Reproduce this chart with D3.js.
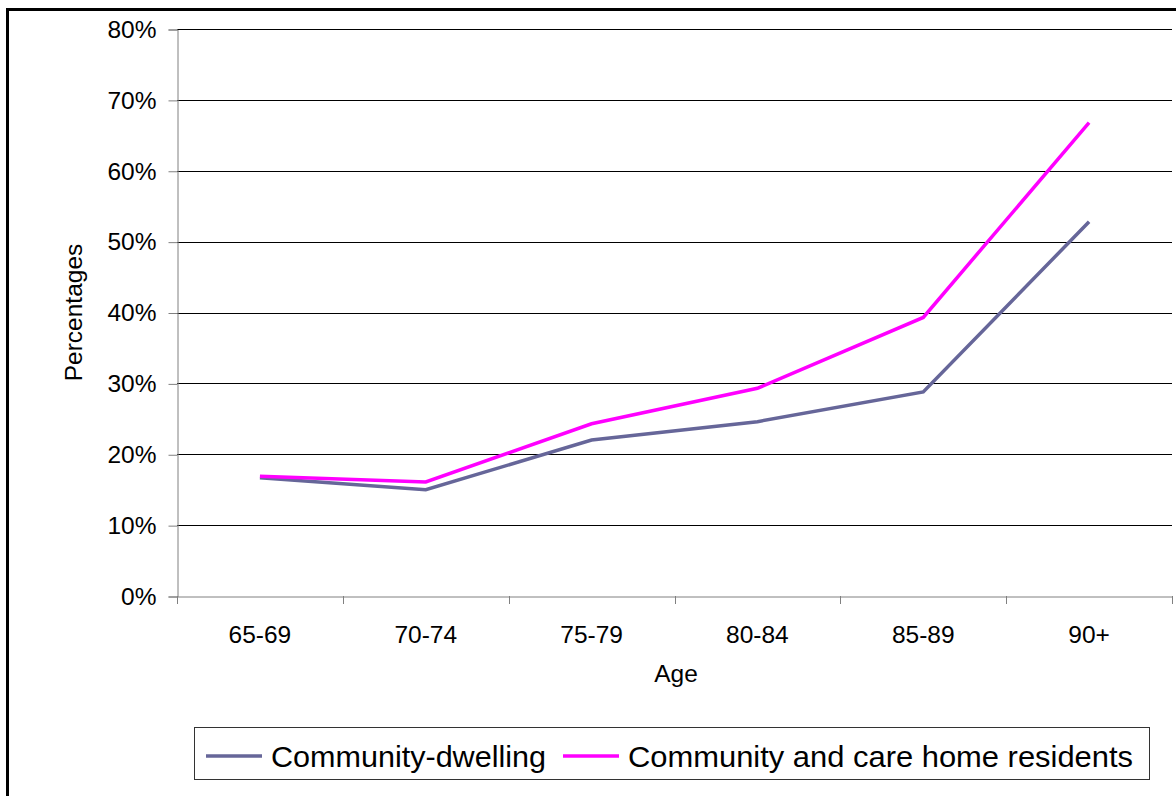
<!DOCTYPE html>
<html><head><meta charset="utf-8">
<script src="https://cdn.jsdelivr.net/npm/d3@7"></script>
<style>body{margin:0;background:#fff}svg{display:block}text{font-family:"Liberation Sans",Arial,sans-serif;fill:#000}</style>
</head><body>
<svg id="c" width="1176" height="796"></svg>
<script>
const categories = ["65-69","70-74","75-79","80-84","85-89","90+"];
const communityDwelling = [16.7, 15.0, 22.0, 24.6, 28.8, 52.8];
const communityCareHome = [16.9, 16.1, 24.3, 29.3, 39.3, 66.8];
const yTicks = [0,10,20,30,40,50,60,70,80];
const seriesNames = ["Community-dwelling","Community and care home residents"];
const seriesColors = ["#666699","#FF00FF"];

const svg = d3.select("#c");
const L=177, R=1172, T=29, B=596;
svg.append("rect").attr("x",7.5).attr("y",9.5).attr("width",1300).attr("height",1000)
  .attr("fill","none").attr("stroke","#000").attr("stroke-width",3);

const x = d3.scaleBand().domain(categories).range([L,R]).padding(0);
const y = d3.scaleLinear().domain([0,80]).range([B,T]);

// gridlines
svg.append("g").selectAll("line").data(yTicks.filter(d=>d>0)).join("line")
  .attr("x1",L).attr("x2",R).attr("y1",d=>Math.round(y(d))+0.5).attr("y2",d=>Math.round(y(d))+0.5)
  .attr("stroke","#000").attr("stroke-width",1);

// y axis
const ya = svg.append("g").attr("transform",`translate(${L+0.5},0.5)`)
  .call(d3.axisLeft(y).tickValues(yTicks).tickFormat(d=>d+"%").tickSize(9).tickPadding(12));
ya.select(".domain").attr("stroke","#808080");
ya.selectAll(".tick line").attr("stroke","#808080");
ya.selectAll("text").style("font-size","24.5px").attr("fill","#000").style("font-family","'Liberation Sans',Arial,sans-serif");

// x axis
const xa = svg.append("g").attr("transform",`translate(0,${B+0.5})`)
  .call(d3.axisBottom(x).tickSize(0).tickPadding(29).tickSizeOuter(0));
xa.select(".domain").attr("stroke","#808080");
xa.selectAll("text").style("font-size","24.5px").attr("fill","#000").style("font-family","'Liberation Sans',Arial,sans-serif");
// boundary ticks
const bounds = categories.map(c=>x(c)).concat([R]);
svg.append("g").selectAll("line").data(bounds).join("line")
  .attr("x1",d=>Math.round(d)+0.5).attr("x2",d=>Math.round(d)+0.5)
  .attr("y1",B).attr("y2",B+8).attr("stroke","#808080");

// lines
const line = d3.line().x((d,i)=>x(categories[i])+x.bandwidth()/2).y(d=>y(d));
[communityDwelling, communityCareHome].forEach((s,i)=>{
  svg.append("path").datum(s).attr("d",line).attr("fill","none")
    .attr("stroke",seriesColors[i]).attr("stroke-width",3.5).attr("stroke-linejoin","miter");
});

// axis titles
svg.append("text").attr("x",676).attr("y",682).attr("text-anchor","middle").style("font-size","24.5px").text("Age");
svg.append("text").attr("transform",`translate(82,${(T+B)/2}) rotate(-90)`).attr("text-anchor","middle").style("font-size","24.5px").text("Percentages");

// legend
const lg = svg.append("g");
lg.append("rect").attr("x",194.5).attr("y",727.5).attr("width",955).attr("height",52)
  .attr("fill","#fff").attr("stroke","#333").attr("stroke-width",1);
const legX = [206, 563];
const legW = [275, 505];
seriesNames.forEach((n,i)=>{
  lg.append("line").attr("x1",legX[i]).attr("x2",legX[i]+56).attr("y1",756).attr("y2",756)
    .attr("stroke",seriesColors[i]).attr("stroke-width",3.5);
  lg.append("text").attr("x",legX[i]+65).attr("y",766.5).style("font-size","30px")
    .attr("textLength",legW[i]).attr("lengthAdjust","spacingAndGlyphs").text(n);
});
</script>
</body></html>
